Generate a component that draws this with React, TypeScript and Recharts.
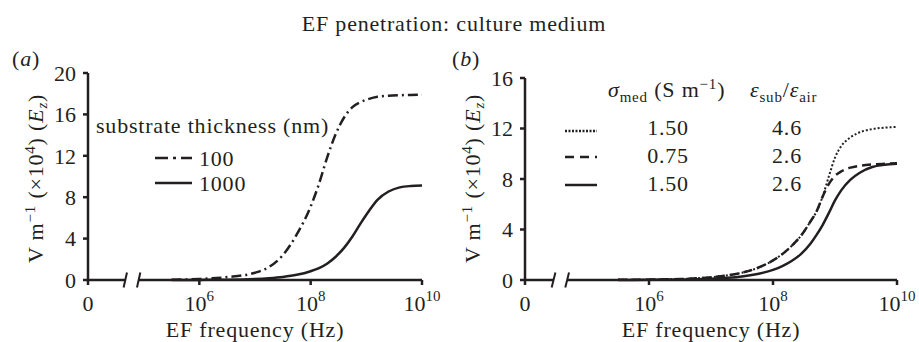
import React from 'react';
import { LineChart, Line, XAxis, YAxis, ReferenceLine } from 'recharts';

const INK = '#231f20';
const FONT = "'Liberation Serif', 'Times New Roman', serif";
const FS = 22;
const SUP = 15;

// log10 of EF frequency (Hz); 4 stands for the "0" end of the broken axis
const freqTicks = [4, 6, 8, 10];
const yTicksA = [0, 4, 8, 12, 16, 20];
const yTicksB = [0, 4, 8, 12, 16];

// panel (a): substrate thickness
const logFreqA = [5.5, 6, 6.5, 7, 7.25, 7.5, 7.75, 8, 8.15, 8.3, 8.45, 8.6, 8.75, 8.9, 9.05, 9.2, 9.4, 9.6, 9.8, 10];
const thick100 = [0.03, 0.1, 0.28, 0.7, 1.25, 2.4, 4.4, 7.1, 9.3, 11.9, 14.1, 15.7, 16.7, 17.2, 17.5, 17.7, 17.8, 17.85, 17.88, 17.9];
const thick1000 = [0, 0.01, 0.03, 0.1, 0.18, 0.3, 0.5, 0.85, 1.15, 1.6, 2.25, 3.1, 4.2, 5.5, 6.7, 7.75, 8.55, 8.95, 9.08, 9.12];

// panel (b): sigma_med / eps_sub ratio
const logFreqB = [5.5, 6, 6.5, 7, 7.25, 7.5, 7.75, 8, 8.15, 8.3, 8.45, 8.6, 8.7, 8.8, 8.9, 9, 9.1, 9.25, 9.4, 9.6, 9.8, 10];
const sig150eps46 = [0.01, 0.03, 0.08, 0.22, 0.36, 0.58, 0.95, 1.55, 2.05, 2.7, 3.5, 4.6, 5.4, 6.6, 8.2, 9.7, 10.6, 11.3, 11.7, 11.95, 12.07, 12.12];
const sig075eps26 = [0.01, 0.03, 0.08, 0.22, 0.36, 0.58, 0.95, 1.55, 2.05, 2.7, 3.5, 4.6, 5.4, 6.6, 7.6, 8.25, 8.6, 8.9, 9.05, 9.15, 9.2, 9.24];
const sig150eps26 = [0, 0.01, 0.03, 0.1, 0.17, 0.28, 0.48, 0.8, 1.1, 1.5, 2.05, 2.85, 3.55, 4.35, 5.3, 6.3, 7.1, 7.95, 8.5, 8.95, 9.12, 9.2];

const dataA = logFreqA.map((f, i) => ({ f, t100: thick100[i], t1000: thick1000[i] }));
const dataB = logFreqB.map((f, i) => ({ f, s1: sig150eps46[i], s2: sig075eps26[i], s3: sig150eps26[i] }));

const FreqTick = (props: any) => {
    const { x, y, payload } = props;
    const v = payload.value;
    return (
        <text x={x} y={y + 24} textAnchor="middle" fill={INK} fontSize={FS} fontFamily={FONT}>
            {v === 4 ? '0' : (
                <>
                    <tspan>10</tspan>
                    <tspan dy={-10} fontSize={SUP}>{v}</tspan>
                </>
            )}
        </text>
    );
};

const yTickStyle = { fill: INK, fontSize: FS, fontFamily: FONT };

function Panel({ data, series, yMax, yTicks, width, margin, gap, slash }: any) {
    return (
        <LineChart width={width} height={342} data={data} margin={margin}>
            <XAxis type="number" dataKey="f" domain={[4, 10]} ticks={freqTicks} axisLine={false}
                tickLine={{ stroke: INK, strokeWidth: 2.5 }} tickSize={5} height={30} tick={<FreqTick />} />
            <YAxis type="number" domain={[0, yMax]} ticks={yTicks} width={50}
                axisLine={{ stroke: INK, strokeWidth: 2.5 }} tickLine={{ stroke: INK, strokeWidth: 2.5 }}
                tickSize={5} tickMargin={7} tick={yTickStyle} />
            <ReferenceLine segment={[{ x: 4, y: 0 }, { x: gap[0], y: 0 }]} stroke={INK} strokeWidth={2.5} ifOverflow="visible" />
            <ReferenceLine segment={[{ x: gap[1], y: 0 }, { x: 10, y: 0 }]} stroke={INK} strokeWidth={2.5} ifOverflow="visible" />
            {[gap[0], gap[1]].map((g, i) => (
                <ReferenceLine key={i} segment={[{ x: g - 0.03, y: -slash }, { x: g + 0.03, y: slash }]}
                    stroke={INK} strokeWidth={2} ifOverflow="visible" />
            ))}
            {series.map((s: any) => (
                <Line key={s.key} type="monotone" dataKey={s.key} stroke={INK} strokeWidth={s.w}
                    strokeDasharray={s.dash} dot={false} isAnimationActive={false} />
            ))}
        </LineChart>
    );
}

const seriesA = [
    { key: 't100', dash: '10 4 2 4', w: 2.5 },
    { key: 't1000', dash: undefined, w: 2.5 },
];
const seriesB = [
    { key: 's2', dash: '9 5', w: 2.5 },
    { key: 's1', dash: '2 2', w: 2 },
    { key: 's3', dash: undefined, w: 2.5 },
];

const txt = { fill: INK, fontFamily: FONT, fontSize: FS, letterSpacing: 0.8 };

function YLabel({ x }: { x: number }) {
    return (
        <text transform={`translate(${x},263) rotate(-90)`} {...txt}>
            V m<tspan dy={-8} fontSize={SUP}>−1</tspan>
            <tspan dy={8}> (×10</tspan><tspan dy={-8} fontSize={SUP}>4</tspan>
            <tspan dy={8}>) (</tspan><tspan fontStyle="italic">E</tspan>
            <tspan fontStyle="italic" fontSize={SUP} dy={4}>z</tspan><tspan dy={-4}>)</tspan>
        </text>
    );
}

export default function App() {
    return (
        <div style={{ position: 'fixed', left: 0, top: 0, width: 919, height: 342, background: '#fff' }}>
            <div style={{ position: 'absolute', left: 0, top: 0 }}>
                <Panel data={dataA} series={seriesA} yMax={20} yTicks={yTicksA} width={460}
                    margin={{ top: 73, right: 38, bottom: 32, left: 38 }} gap={[4.67, 4.91]} slash={0.72} />
            </div>
            <div style={{ position: 'absolute', left: 460, top: 0 }}>
                <Panel data={dataB} series={seriesB} yMax={16} yTicks={yTicksB} width={459}
                    margin={{ top: 78, right: 22, bottom: 32, left: 15 }} gap={[4.46, 4.68]} slash={0.6} />
            </div>
            <svg width={919} height={342} style={{ position: 'absolute', left: 0, top: 0, pointerEvents: 'none' }}>
                <text x={454} y={31} textAnchor="middle" {...txt}>EF penetration: culture medium</text>
                <text x={12} y={66} {...txt}>(<tspan fontStyle="italic">a</tspan>)</text>
                <text x={452} y={66} {...txt}>(<tspan fontStyle="italic">b</tspan>)</text>
                <YLabel x={43} />
                <YLabel x={480} />
                <text x={255} y={337} textAnchor="middle" {...txt}>EF frequency (Hz)</text>
                <text x={711} y={337} textAnchor="middle" {...txt}>EF frequency (Hz)</text>

                {/* legend (a) */}
                <text x={96} y={133} {...txt}>substrate thickness (nm)</text>
                <line x1={155} x2={192} y1={158} y2={158} stroke={INK} strokeWidth={2.5} strokeDasharray="13 5 3 5" />
                <text x={199} y={166} {...txt}>100</text>
                <line x1={155} x2={192} y1={183} y2={183} stroke={INK} strokeWidth={2.5} />
                <text x={199} y={191} {...txt}>1000</text>

                {/* legend (b) */}
                <text x={608} y={97} {...txt}>
                    <tspan fontStyle="italic">σ</tspan><tspan fontSize={SUP} dy={5}>med</tspan>
                    <tspan dy={-5}> (S m</tspan><tspan fontSize={SUP} dy={-8}>−1</tspan><tspan dy={8}>)</tspan>
                </text>
                <text x={750} y={97} {...txt}>
                    <tspan fontStyle="italic">ε</tspan><tspan fontSize={SUP} dy={5}>sub</tspan>
                    <tspan dy={-5}>/</tspan><tspan fontStyle="italic">ε</tspan><tspan fontSize={SUP} dy={5}>air</tspan>
                </text>
                <line x1={565} x2={597} y1={131} y2={131} stroke={INK} strokeWidth={2.5} strokeDasharray="2 1.5" />
                <line x1={565} x2={597} y1={157} y2={157} stroke={INK} strokeWidth={2.5} strokeDasharray="9 6" />
                <line x1={565} x2={597} y1={185} y2={185} stroke={INK} strokeWidth={2.5} />
                <text x={668} y={135} textAnchor="middle" {...txt}>1.50</text>
                <text x={668} y={163} textAnchor="middle" {...txt}>0.75</text>
                <text x={668} y={191} textAnchor="middle" {...txt}>1.50</text>
                <text x={787} y={135} textAnchor="middle" {...txt}>4.6</text>
                <text x={787} y={163} textAnchor="middle" {...txt}>2.6</text>
                <text x={787} y={191} textAnchor="middle" {...txt}>2.6</text>
            </svg>
        </div>
    );
}
